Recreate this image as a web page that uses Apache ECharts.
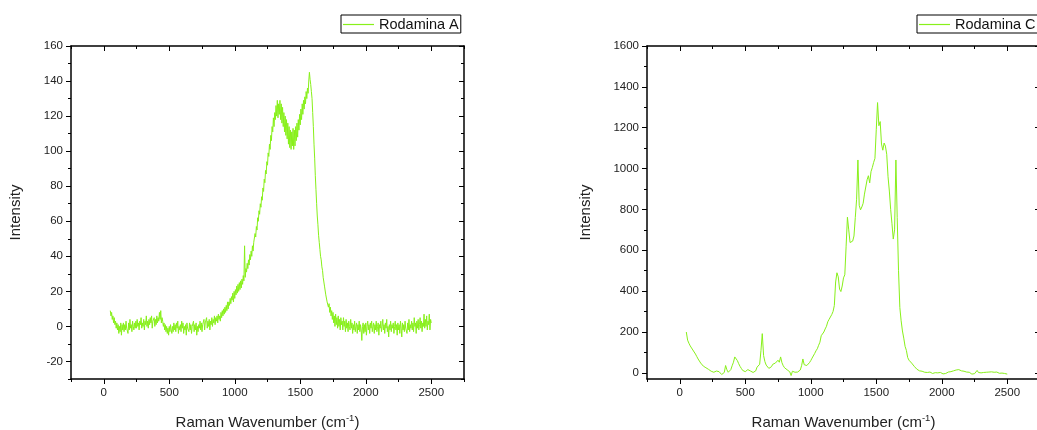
<!DOCTYPE html>
<html>
<head>
<meta charset="utf-8">
<style>
  html, body { margin: 0; padding: 0; background: #fff; }
  #chart { width: 1037px; height: 430px; }
</style>
<script src="https://cdn.jsdelivr.net/npm/echarts@6/dist/echarts.min.js"></script>
</head>
<body>
<div id="chart"></div>
<script>
// Raman shift sampling grid (cm-1) of the Rodamina A scan
const wavenumbersA = [
  50,55,60,65,70,75,80,85,90,95,100,105,110,115,120,125,130,135,140,145,
  150,155,160,165,170,175,180,185,190,195,200,205,210,215,220,225,230,235,240,245,
  250,255,260,265,270,275,280,285,290,295,300,305,310,315,320,325,330,335,340,345,
  350,355,360,365,370,375,380,385,390,395,400,405,410,415,420,425,430,435,440,445,
  450,455,460,465,470,475,480,485,490,495,500,505,510,515,520,525,530,535,540,545,
  550,555,560,565,570,575,580,585,590,595,600,605,610,615,620,625,630,635,640,645,
  650,655,660,665,670,675,680,685,690,695,700,705,710,715,720,725,730,735,740,745,
  750,755,760,765,770,775,780,785,790,795,800,805,810,815,820,825,830,835,840,845,
  850,855,860,865,870,875,880,885,890,895,900,905,910,915,920,925,930,935,940,945,
  950,955,960,965,970,975,980,985,990,995,1000,1005,1010,1015,1020,1025,1030,1035,1040,1045,
  1050,1055,1060,1065,1070,1075,1080,1085,1090,1095,1100,1105,1110,1115,1120,1125,1130,1135,1140,1145,
  1150,1155,1160,1165,1170,1175,1180,1185,1190,1195,1200,1205,1210,1215,1220,1225,1230,1235,1240,1245,
  1250,1255,1260,1265,1270,1275,1280,1285,1290,1295,1300,1305,1310,1315,1320,1325,1330,1335,1340,1345,
  1350,1355,1360,1365,1370,1375,1380,1385,1390,1395,1400,1405,1410,1415,1420,1425,1430,1435,1440,1445,
  1450,1455,1460,1465,1470,1475,1480,1485,1490,1495,1500,1505,1510,1515,1520,1525,1530,1535,1540,1545,
  1550,1555,1560,1565,1570,1575,1580,1585,1590,1595,1600,1605,1610,1615,1620,1625,1630,1635,1640,1645,
  1650,1655,1660,1665,1670,1675,1680,1685,1690,1695,1700,1705,1710,1715,1720,1725,1730,1735,1740,1745,
  1750,1755,1760,1765,1770,1775,1780,1785,1790,1795,1800,1805,1810,1815,1820,1825,1830,1835,1840,1845,
  1850,1855,1860,1865,1870,1875,1880,1885,1890,1895,1900,1905,1910,1915,1920,1925,1930,1935,1940,1945,
  1950,1955,1960,1965,1970,1975,1980,1985,1990,1995,2000,2005,2010,2015,2020,2025,2030,2035,2040,2045,
  2050,2055,2060,2065,2070,2075,2080,2085,2090,2095,2100,2105,2110,2115,2120,2125,2130,2135,2140,2145,
  2150,2155,2160,2165,2170,2175,2180,2185,2190,2195,2200,2205,2210,2215,2220,2225,2230,2235,2240,2245,
  2250,2255,2260,2265,2270,2275,2280,2285,2290,2295,2300,2305,2310,2315,2320,2325,2330,2335,2340,2345,
  2350,2355,2360,2365,2370,2375,2380,2385,2390,2395,2400,2405,2410,2415,2420,2425,2430,2435,2440,2445,
  2450,2455,2460,2465,2470,2475,2480,2485,2490,2495,2500
];

// Rodamina A intensity
const rodaminaA = [
  9,6,8,4,6,2,5,1,3,-1,2,-2,1,-4,0,-3,2,-5,1,-2,
  2,-3,1,-2,3,-1,0,-4,2,-2,4,-1,1,-3,3,0,-2,2,-1,3,
  -1,4,0,2,-2,3,1,5,-1,2,0,4,-2,3,1,6,0,3,-1,4,
  1,5,2,6,-1,3,2,5,0,4,1,6,2,5,3,8,4,9,2,5,
  3,0,2,-2,1,-3,0,-4,-1,-5,0,-3,1,-2,-4,0,-3,2,-2,1,
  -3,2,-1,3,-4,0,-2,1,-3,3,-1,2,-4,0,-2,1,-5,2,-1,0,
  -3,2,-2,1,-4,0,-1,3,-3,1,-2,2,-5,0,-3,1,-1,3,-2,2,
  -3,1,0,4,-2,2,1,5,-1,3,0,4,-2,3,1,5,0,4,2,6,
  1,5,3,6,2,7,4,6,3,8,5,9,6,10,7,11,8,12,9,14,
  10,14,12,16,13,17,15,19,14,20,16,21,18,23,19,24,20,25,21,26,
  22,27,24,29,26,46,28,33,31,36,33,38,35,41,38,43,40,46,43,48,
  47,53,51,57,55,62,60,66,64,70,68,74,72,79,77,84,82,89,87,94,
  92,99,97,104,101,109,106,114,111,119,114,122,118,126,120,129,119,127,121,129,
  118,127,116,125,114,122,111,120,109,118,107,116,104,114,102,112,101,111,103,113,
  101,112,103,114,106,116,108,118,112,121,115,124,118,127,121,129,124,131,127,134,
  130,136,133,140,145,141,138,134,130,122,114,104,96,86,78,70,63,58,52,48,
  44,40,38,34,32,28,27,23,22,18,18,14,15,11,13,8,11,6,9,4,
  8,2,6,0,7,1,5,-1,6,0,4,-2,5,1,3,-2,5,0,3,-3,
  4,-1,2,-3,3,0,-2,4,-1,2,-4,1,-2,3,-3,0,2,-4,1,-2,
  3,-3,1,-2,-8,0,2,-4,1,-3,2,-5,0,3,-2,1,-4,2,-1,3,
  -3,0,2,-4,1,-2,3,-3,0,2,-5,1,-1,3,-3,0,4,-2,1,-4,
  2,-1,4,-3,0,-6,1,-2,3,-3,1,-1,2,-4,0,3,-2,1,-5,2,
  -2,1,-4,3,-1,-6,2,-2,1,-3,3,-1,0,-4,2,-2,4,-3,1,-1,
  3,-2,2,-3,5,0,2,-4,3,-1,4,-2,1,5,-1,3,-3,2,0,7,
  -1,4,0,6,-2,3,1,7,-2,4,2
];

// Raman shift sampling grid (cm-1) of the Rodamina C scan
const wavenumbersC = [
  50,60,70,80,90,100,110,120,130,140,150,160,170,180,190,200,210,220,230,240,
  250,260,270,280,290,300,310,320,330,340,350,360,370,380,390,400,410,420,430,440,
  450,460,470,480,490,500,510,520,530,540,550,560,570,580,590,600,610,620,630,640,
  650,660,670,680,690,700,710,720,730,740,750,760,770,780,790,800,810,820,830,840,
  850,860,870,880,890,900,910,920,930,940,950,960,970,980,990,1000,1010,1020,1030,1040,
  1050,1060,1070,1080,1090,1100,1110,1120,1130,1140,1150,1160,1170,1180,1190,1200,1210,1220,1230,1240,
  1250,1260,1270,1280,1290,1300,1310,1320,1330,1340,1350,1360,1370,1380,1390,1400,1410,1420,1430,1440,
  1450,1460,1470,1480,1490,1500,1510,1520,1530,1540,1550,1560,1570,1580,1590,1600,1610,1620,1630,1640,
  1650,1660,1670,1680,1690,1700,1710,1720,1730,1740,1750,1760,1770,1780,1790,1800,1810,1820,1830,1840,
  1850,1860,1870,1880,1890,1900,1910,1920,1930,1940,1950,1960,1970,1980,1990,2000,2010,2020,2030,2040,
  2050,2060,2070,2080,2090,2100,2110,2120,2130,2140,2150,2160,2170,2180,2190,2200,2210,2220,2230,2240,
  2250,2260,2270,2280,2290,2300,2310,2320,2330,2340,2350,2360,2370,2380,2390,2400,2410,2420,2430,2440,
  2450,2460,2470,2480,2490,2500
];

// Rodamina C intensity
const rodaminaC = [
  200,160,145,132,122,112,103,92,80,68,58,48,40,33,28,25,22,17,12,8,
  5,3,6,9,4,6,2,-8,-14,2,36,15,3,8,16,35,52,78,75,60,
  45,32,22,12,8,6,10,16,12,9,4,2,6,10,28,35,42,110,192,85,
  55,38,45,22,18,30,42,50,48,55,62,52,78,50,35,25,18,15,10,5,
  -13,8,0,3,2,4,2,14,35,68,40,32,36,44,50,60,72,80,95,108,
  118,135,150,182,175,200,215,228,250,262,270,285,300,330,445,490,470,410,398,425,
  465,480,620,762,700,638,630,645,670,760,850,1042,820,798,812,830,875,880,945,965,
  930,985,1005,1030,1050,1190,1323,1210,1230,1120,1090,1125,1110,1070,960,890,800,730,655,700,
  1042,760,500,320,255,205,170,130,110,75,62,55,48,40,32,24,18,14,10,6,
  8,4,3,6,2,10,4,0,-3,-2,1,-4,0,-3,2,-2,-5,0,-3,2,
  4,0,6,8,10,12,14,12,16,13,10,12,8,6,4,2,3,-2,-6,-8,
  -4,5,12,2,6,0,4,2,5,3,7,4,2,5,6,3,0,4,1,-2,
  2,-1,0,-3,-2,-6
];

// Axis ticks
const xMajorTicks = [0, 500, 1000, 1500, 2000, 2500];
const xMinorTicks = [-250, 250, 750, 1250, 1750, 2250, 2750];
const yMajorTicksA = [-20, 0, 20, 40, 60, 80, 100, 120, 140, 160];
const yMinorTicksA = [-30, -10, 10, 30, 50, 70, 90, 110, 130, 150];
const yMajorTicksC = [0, 200, 400, 600, 800, 1000, 1200, 1400, 1600];
const yMinorTicksC = [100, 300, 500, 700, 900, 1100, 1300, 1500];

const FONT = '"Liberation Sans", Arial, Helvetica, sans-serif';
const LINE_COLOR = '#88f01a';
const FRAME = { color: '#000', width: 1.5 };

function pairs(xs, ys) {
  return xs.map((x, i) => [x, ys[i]]);
}

// One side of a frame: a labelled axis with long ticks plus an overlay carrying short minor ticks
function axisPair(grid, position, min, max, majors, minors, withLabels, extra) {
  const inside = (position === 'top' || position === 'right');
  const main = Object.assign({
    type: 'value', gridIndex: grid, position: position, min: min, max: max,
    axisLine: { show: true, onZero: false, lineStyle: FRAME },
    axisTick: { show: true, inside: inside, length: 5, customValues: majors, lineStyle: { color: '#000', width: 1 } },
    axisLabel: withLabels ? {
      show: true, customValues: majors, margin: 8, color: '#222',
      fontFamily: FONT, fontSize: 11.5, formatter: v => String(v)
    } : { show: false },
    splitLine: { show: false }
  }, extra || {});
  const minor = {
    type: 'value', gridIndex: grid, position: position, min: min, max: max,
    axisLine: { show: false, onZero: false },
    axisTick: { show: true, inside: inside, length: 3, customValues: minors, lineStyle: { color: '#000', width: 1 } },
    axisLabel: { show: false },
    splitLine: { show: false }
  };
  return [main, minor];
}

const xTitle = {
  name: '{t|Raman Wavenumber (cm}{s|-1}{t|)}',
  nameLocation: 'middle',
  nameGap: 34,
  nameTextStyle: {
    rich: {
      t: { fontFamily: FONT, fontSize: 15, color: '#222' },
      s: { fontFamily: FONT, fontSize: 9.5, color: '#222', verticalAlign: 'top', padding: [0, 0, 9, 0] }
    }
  }
};
function yTitle(gap) {
  return {
    name: 'Intensity', nameLocation: 'middle', nameGap: gap, nameRotate: 90,
    nameTextStyle: { fontFamily: FONT, fontSize: 15, color: '#222' }
  };
}

const xAxes = [].concat(
  axisPair(0, 'bottom', -250, 2750, xMajorTicks, xMinorTicks, true, xTitle),
  axisPair(0, 'top', -250, 2750, xMajorTicks, xMinorTicks, false),
  axisPair(1, 'bottom', -250, 2750, xMajorTicks, xMinorTicks, true, xTitle),
  axisPair(1, 'top', -250, 2750, xMajorTicks, xMinorTicks, false)
);
const yAxes = [].concat(
  axisPair(0, 'left', -30, 160, yMajorTicksA, yMinorTicksA, true, yTitle(48)),
  axisPair(0, 'right', -30, 160, yMajorTicksA, yMinorTicksA, false),
  axisPair(1, 'left', -30, 1600, yMajorTicksC, yMinorTicksC, true, yTitle(54)),
  axisPair(1, 'right', -30, 1600, yMajorTicksC, yMinorTicksC, false)
);

const legendBase = {
  orient: 'horizontal', top: 15,
  borderColor: '#000', borderWidth: 1, padding: [1, 2, 0, 2],
  icon: 'rect', itemWidth: 31, itemHeight: 1.2, itemGap: 4,
  textStyle: { fontFamily: FONT, fontSize: 14.5, lineHeight: 17, color: '#111' }
};

const chart = echarts.init(document.getElementById('chart'), null, { renderer: 'canvas' });
chart.setOption({
  animation: false,
  backgroundColor: '#fff',
  grid: [
    { left: 71, top: 46, width: 393, height: 333, containLabel: false, outerBoundsMode: 'none' },
    { left: 647, top: 46, width: 393, height: 333, containLabel: false, outerBoundsMode: 'none' }
  ],
  legend: [
    Object.assign({}, legendBase, { left: 341, data: ['Rodamina A'] }),
    Object.assign({}, legendBase, { left: 917, data: ['Rodamina C'] })
  ],
  xAxis: xAxes,
  yAxis: yAxes,
  series: [
    {
      name: 'Rodamina A', type: 'line', xAxisIndex: 0, yAxisIndex: 0,
      data: pairs(wavenumbersA, rodaminaA), symbol: 'none', clip: true,
      lineStyle: { color: LINE_COLOR, width: 1 }, itemStyle: { color: LINE_COLOR }
    },
    {
      name: 'Rodamina C', type: 'line', xAxisIndex: 4, yAxisIndex: 4,
      data: pairs(wavenumbersC, rodaminaC), symbol: 'none', clip: true,
      lineStyle: { color: LINE_COLOR, width: 1 }, itemStyle: { color: LINE_COLOR }
    }
  ]
});
</script>
</body>
</html>
